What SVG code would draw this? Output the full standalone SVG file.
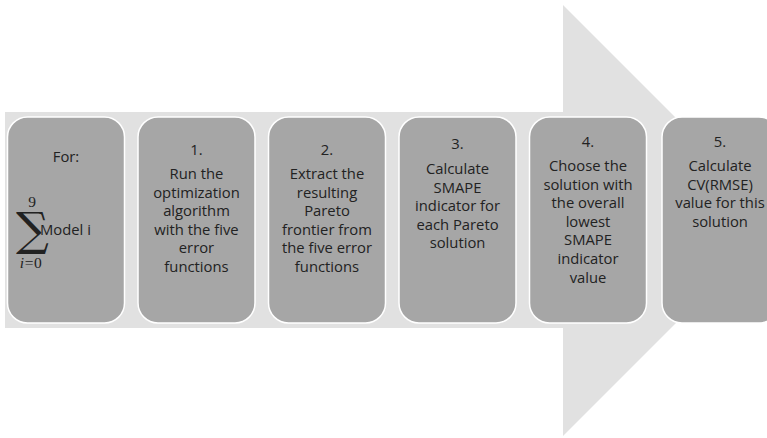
<svg xmlns="http://www.w3.org/2000/svg" width="767" height="438" viewBox="0 0 767 438">
  <style>
    .step { fill: #a6a6a6; stroke: #ffffff; stroke-width: 1.5; }
    .lbl { font-family: "Open Sans", "Liberation Sans", sans-serif; font-size: 14.8px; fill: #222222; text-anchor: middle; }
    .lbl-start { font-family: "Open Sans", "Liberation Sans", sans-serif; font-size: 14.8px; fill: #222222; text-anchor: start; }
    .math { font-family: "Liberation Serif", "DejaVu Serif", serif; font-size: 15.5px; fill: #222222; text-anchor: middle; }
    .sigma { font-family: "DejaVu Serif", "Liberation Serif", serif; font-size: 46px; fill: #222222; text-anchor: start; }
  </style>
  <rect width="767" height="438" fill="#ffffff"/>

  <!-- process arrow behind the steps -->
  <g id="process-arrow">
    <path d="M5,112 H563 V5 L778.5,220.5 L563,436 V328 H5 Z" fill="#e1e1e1"/>
  </g>

  <g id="connectors"></g>

  <g id="step-for">
    <rect class="step" x="7.5" y="117" width="117" height="206" rx="20"/>
    <text class="lbl" x="66" y="162">For:</text>
    <text class="sigma" x="16" y="245">∑</text>
    <text class="math" x="32" y="207">9</text>
    <text class="math" x="31" y="268" letter-spacing="0.5"><tspan font-style="italic">i</tspan>=0</text>
    <text class="lbl-start" x="40" y="235">Model i</text>
  </g>

  <g id="step-1">
    <rect class="step" x="138" y="117" width="117" height="206" rx="20"/>
    <text class="lbl" x="196.5" y="155">1.</text>
    <text class="lbl" x="196.5" y="179">Run the</text>
    <text class="lbl" x="196.5" y="197.6">optimization</text>
    <text class="lbl" x="196.5" y="216.2">algorithm</text>
    <text class="lbl" x="196.5" y="234.8">with the five</text>
    <text class="lbl" x="196.5" y="253.4">error</text>
    <text class="lbl" x="196.5" y="272">functions</text>
  </g>

  <g id="step-2">
    <rect class="step" x="268.5" y="117" width="117" height="206" rx="20"/>
    <text class="lbl" x="327" y="155">2.</text>
    <text class="lbl" x="327" y="179">Extract the</text>
    <text class="lbl" x="327" y="197.6">resulting</text>
    <text class="lbl" x="327" y="216.2">Pareto</text>
    <text class="lbl" x="327" y="234.8">frontier from</text>
    <text class="lbl" x="327" y="253.4">the five error</text>
    <text class="lbl" x="327" y="272">functions</text>
  </g>

  <g id="step-3">
    <rect class="step" x="399" y="117" width="117" height="206" rx="20"/>
    <text class="lbl" x="457.5" y="149">3.</text>
    <text class="lbl" x="457.5" y="174">Calculate</text>
    <text class="lbl" x="457.5" y="192.6">SMAPE</text>
    <text class="lbl" x="457.5" y="211.2">indicator for</text>
    <text class="lbl" x="457.5" y="229.8">each Pareto</text>
    <text class="lbl" x="457.5" y="248.4">solution</text>
  </g>

  <g id="step-4">
    <rect class="step" x="529.5" y="117" width="117" height="206" rx="20"/>
    <text class="lbl" x="588" y="147">4.</text>
    <text class="lbl" x="588" y="171">Choose the</text>
    <text class="lbl" x="588" y="189.6">solution with</text>
    <text class="lbl" x="588" y="208.2">the overall</text>
    <text class="lbl" x="588" y="226.8">lowest</text>
    <text class="lbl" x="588" y="245.4">SMAPE</text>
    <text class="lbl" x="588" y="264">indicator</text>
    <text class="lbl" x="588" y="282.6">value</text>
  </g>

  <g id="step-5">
    <rect class="step" x="662" y="117" width="117" height="206" rx="20"/>
    <text class="lbl" x="720" y="147">5.</text>
    <text class="lbl" x="720" y="171">Calculate</text>
    <text class="lbl" x="720" y="189.6">CV(RMSE)</text>
    <text class="lbl" x="720" y="208.2">value for this</text>
    <text class="lbl" x="720" y="226.8">solution</text>
  </g>
</svg>
